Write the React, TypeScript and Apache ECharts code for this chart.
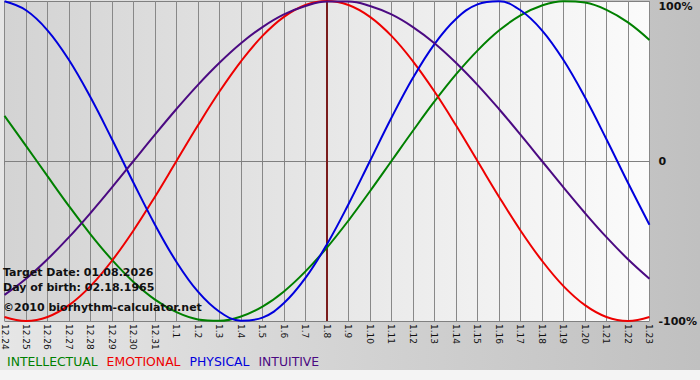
import React, { useEffect, useRef } from 'react';
import * as echarts from 'echarts';

const dates = [
  '12.24', '12.25', '12.26', '12.27', '12.28', '12.29', '12.30', '12.31',
  '1.1', '1.2', '1.3', '1.4', '1.5', '1.6', '1.7', '1.8', '1.9', '1.10',
  '1.11', '1.12', '1.13', '1.14', '1.15', '1.16', '1.17', '1.18', '1.19',
  '1.20', '1.21', '1.22', '1.23',
];

const intellectual = [
  0.282, 0.095, -0.095, -0.282, -0.458, -0.618, -0.756, -0.866, -0.945, -0.99,
  -0.999, -0.972, -0.91, -0.815, -0.69, -0.541, -0.372, -0.189, 0, 0.189,
  0.372, 0.541, 0.69, 0.815, 0.91, 0.972, 0.999, 0.99, 0.945, 0.866, 0.756,
];

const emotional = [
  -0.975, -1, -0.975, -0.901, -0.782, -0.623, -0.434, -0.223, 0, 0.223,
  0.434, 0.623, 0.782, 0.901, 0.975, 1, 0.975, 0.901, 0.782, 0.623,
  0.434, 0.223, 0, -0.223, -0.434, -0.623, -0.782, -0.901, -0.975, -1, -0.975,
];

const physical = [
  0.998, 0.942, 0.817, 0.631, 0.398, 0.136, -0.136, -0.398, -0.631, -0.817,
  -0.942, -0.998, -0.979, -0.888, -0.731, -0.52, -0.27, 0, 0.27, 0.52,
  0.731, 0.888, 0.979, 0.998, 0.942, 0.817, 0.631, 0.398, 0.136, -0.136, -0.398,
];

const intuitive = [
  -0.837, -0.736, -0.614, -0.476, -0.325, -0.165, 0, 0.165, 0.325, 0.476,
  0.614, 0.736, 0.837, 0.916, 0.969, 0.997, 0.997, 0.969, 0.916, 0.837,
  0.736, 0.614, 0.476, 0.325, 0.165, 0, -0.165, -0.325, -0.476, -0.614, -0.736,
];

const seriesNames = ['INTELLECTUAL', 'EMOTIONAL', 'PHYSICAL', 'INTUITIVE'];
const seriesColors = ['#008000', '#ee0000', '#0000dd', '#4b0a82'];
const seriesData = [intellectual, emotional, physical, intuitive];

const yTickValues = [-1, 0, 1];
const yTickLabels = ['-100%', '0', '100%'];

const targetDate = '1.8';
const infoLines = [
  'Target Date: 01.08.2026',
  'Day of birth: 02.18.1965',
  '\u00a92010 biorhythm-calculator.net',
];

const FONT = '"DejaVu Sans", Verdana, sans-serif';

export default function App() {
  const ref = useRef<HTMLDivElement>(null);

  useEffect(() => {
    if (!ref.current) return;
    const chart = echarts.init(ref.current, null, { renderer: 'svg' });
    const infoY = [272, 287, 307];
    chart.setOption({
      animation: false,
      backgroundColor: 'transparent',
      grid: {
        left: 0,
        right: 50,
        top: 1,
        height: 320,
        containLabel: false,
        show: true,
        borderWidth: 0,
        backgroundColor: new echarts.graphic.LinearGradient(0, 0, 1, 0, [
          { offset: 0, color: '#d3d3d3' },
          { offset: 0.5, color: '#e7e7e7' },
          { offset: 1, color: '#fbfbfb' },
        ]),
      },
      legend: {
        left: -3,
        top: 350,
        icon: 'none',
        itemWidth: 0,
        itemHeight: 12,
        itemGap: 4,
        selectedMode: false,
        textStyle: { fontSize: 12.4, fontFamily: FONT },
        data: seriesNames.map((n, i) => ({ name: n, textStyle: { color: seriesColors[i] } })),
      },
      xAxis: {
        type: 'category',
        data: dates,
        boundaryGap: false,
        axisLine: { show: true, lineStyle: { color: '#808080', width: 1 } },
        axisTick: { show: true, interval: 0, length: 4, lineStyle: { color: '#808080' } },
        axisLabel: {
          interval: 0,
          rotate: -90,
          fontSize: 9,
          fontFamily: FONT,
          color: '#111',
          margin: 3,
        },
        splitLine: { show: true, interval: 0, lineStyle: { color: '#888888', width: 1 } },
      },
      yAxis: {
        type: 'value',
        position: 'right',
        min: -1,
        max: 1,
        interval: 1,
        axisLine: { show: false },
        axisTick: { show: false },
        splitLine: { show: true, lineStyle: { color: '#808080', width: 1 } },
        axisLabel: {
          formatter: (v: number) => yTickLabels[yTickValues.indexOf(v)] ?? '',
          fontSize: 11,
          fontWeight: 'bold',
          fontFamily: FONT,
          color: '#111',
          margin: 9,
          verticalAlignMaxLabel: 'top',
        },
      },
      graphic: infoLines.map((t, i) => ({
        type: 'text',
        x: 3,
        y: infoY[i],
        z: 100,
        style: {
          text: t,
          fontSize: 11,
          fontWeight: 'bold',
          fontFamily: FONT,
          fill: '#111',
          verticalAlign: 'middle',
        },
      })),
      series: seriesNames.map((n, i) => ({
        name: n,
        type: 'line',
        data: seriesData[i],
        smooth: 0.4,
        showSymbol: false,
        symbol: 'none',
        color: seriesColors[i],
        lineStyle: { color: seriesColors[i], width: 2 },
        z: 3,
        markLine:
          i === 0
            ? {
                silent: true,
                symbol: 'none',
                label: { show: false },
                lineStyle: { color: '#7a1c1c', width: 2, type: 'solid' },
                data: [{ xAxis: targetDate }],
                z: 2,
              }
            : undefined,
      })),
    });
    return () => chart.dispose();
  }, []);

  return (
    <div
      ref={ref}
      style={{
        position: 'absolute',
        left: 0,
        top: 0,
        width: 700,
        height: 380,
        background:
          'linear-gradient(to bottom, rgba(255,255,255,0) 370px, #f4f4f4 370px), linear-gradient(to right, #e6e6e6, #c0c0c0)',
      }}
    />
  );
}
